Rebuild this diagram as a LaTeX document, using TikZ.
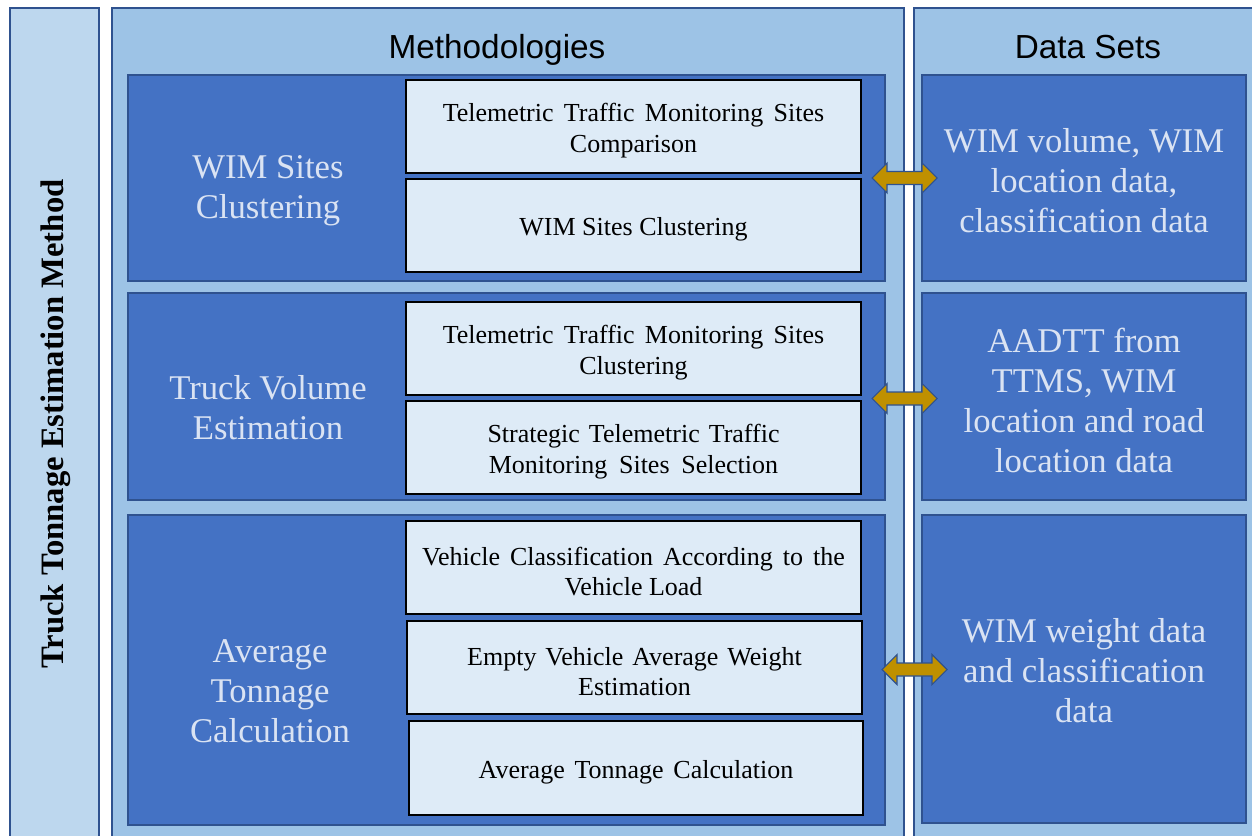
\documentclass[tikz,border=0pt]{standalone}
\usepackage{fontspec}
\setmainfont{Liberation Serif}
\newfontfamily\titlefont{Liberation Sans}
\usetikzlibrary{calc,fit}
\definecolor{colA}{HTML}{BDD7EE}
\definecolor{panel}{HTML}{9DC3E6}
\definecolor{dark}{HTML}{4472C4}
\definecolor{edge}{HTML}{2F528F}
\definecolor{pale}{HTML}{DEEBF7}
\definecolor{gold}{HTML}{BF9000}
\definecolor{ltext}{HTML}{DAE3F3}
\newcommand\jl[2]{\makebox[#1pt][s]{#2}}
\begin{document}
\begin{tikzpicture}[x=0.75pt,y=-0.75pt,
  outerbox/.style={draw=edge, line width=1pt, inner sep=0pt},
  darkbox/.style={draw=edge, line width=1pt, fill=dark, inner sep=0pt},
  whitebox/.style={draw=black, line width=1.3pt, fill=pale, inner sep=0pt},
  titletext/.style={font=\titlefont\fontsize{25}{30}\selectfont, text=black, anchor=base},
  biglabel/.style={font=\fontsize{26}{30}\selectfont, text=ltext, align=center},
  boxtext/.style={font=\fontsize{19.5}{23}\selectfont, text=black, align=center, yshift=-3pt},
  linkarrow/.style={fill=gold, draw=edge, line width=0.8pt, line join=miter}]
\useasboundingbox (0,0) rectangle (1252,835);
\fill[white] (0,0) rectangle (1252,835);

% outer columns
\node[outerbox, fill=colA, fit={(10,8) (99,845)}] (L) {};
\node[outerbox, fill=panel, fit={(112,8) (904,845)}] (P) {};
\node[outerbox, fill=panel, fit={(914,8) (1262,845)}] (D) {};

\node[rotate=90, font=\bfseries\fontsize{24.5}{28}\selectfont] (Lt) at (56,424) {Truck Tonnage Estimation Method};
\node[titletext] (Pt) at (497,58) {Methodologies};
\node[titletext] (Dt) at (1088,58) {Data Sets};

% methodology groups
\node[darkbox, fit={(128,75) (885,281)}] (m1) {};
\node[darkbox, fit={(128,293) (885,500)}] (m2) {};
\node[darkbox, fit={(128,515) (885,825)}] (m3) {};

% data boxes
\node[darkbox, fit={(922,75) (1246,281)}] (d1) {};
\node[darkbox, fit={(922,293) (1246,500)}] (d2) {};
\node[darkbox, fit={(922,515) (1246,823)}] (d3) {};

% group labels
\node[biglabel] (l1) at (268,191) {WIM Sites\\Clustering};
\node[biglabel] (l2) at (268,408) {Truck Volume\\Estimation};
\node[biglabel] (l3) at (270,691) {Average\\Tonnage\\Calculation};

% data texts
\node[biglabel] (t1) at (1084,181) {WIM volume, WIM\\location data,\\classification data};
\node[biglabel] (t2) at (1084,400) {AADTT from\\TTMS, WIM\\location and road\\location data};
\node[biglabel] (t3) at (1084,671) {WIM weight data\\and classification\\data};

% white boxes
\node[whitebox, fit={(406,80) (861,173)}] (w11) {};
\node[whitebox, fit={(406,179) (861,272)}] (w12) {};
\node[whitebox, fit={(406,302) (861,395)}] (w21) {};
\node[whitebox, fit={(406,401) (861,494)}] (w22) {};
\node[whitebox, fit={(406,521) (861,614)}] (w31) {};
\node[whitebox, fit={(407,621) (862,714)}] (w32) {};
\node[whitebox, fit={(409,721) (863,815)}] (w33) {};

\node[boxtext] (s11) at (w11.center) {\jl{286}{Telemetric Traffic Monitoring Sites}\\Comparison};
\node[boxtext] (s12) at (w12.center) {WIM Sites Clustering};
\node[boxtext] (s21) at (w21.center) {\jl{286}{Telemetric Traffic Monitoring Sites}\\Clustering};
\node[boxtext] (s22) at (w22.center) {\jl{219}{Strategic Telemetric Traffic}\\\jl{217}{Monitoring Sites Selection}};
\node[boxtext] (s31) at (w31.center) {\jl{317}{Vehicle Classification According to the}\\Vehicle Load};
\node[boxtext] (s32) at (w32.center) {\jl{251}{Empty Vehicle Average Weight}\\Estimation};
\node[boxtext] (s33) at (w33.center) {\jl{236}{Average Tonnage Calculation}};

% double arrows between groups and data sets
\coordinate (a1) at ($(m1.east)!0.5!(d1.west)+(1,0)$);
\coordinate (a2) at ($(m2.east)!0.5!(d2.west)+(1,2)$);
\coordinate (a3) at ($(m3.east)!0.5!(d3.west)+(11,0)$);
\foreach \c in {a1,a2,a3}{
  \draw[linkarrow, shift={(\c)}]
    (-32.5,0) -- (-17.5,-15) -- (-17.5,-6.5) -- (17.5,-6.5) -- (17.5,-15)
    -- (32.5,0) -- (17.5,15) -- (17.5,6.5) -- (-17.5,6.5) -- (-17.5,15) -- cycle;
}
\end{tikzpicture}
\end{document}
